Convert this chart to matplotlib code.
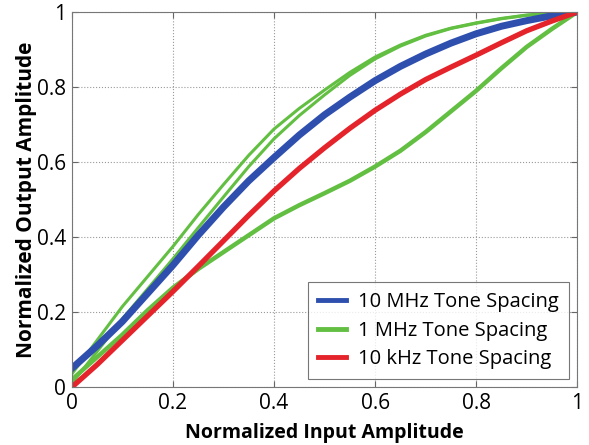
import matplotlib
matplotlib.use('Agg')
import matplotlib.pyplot as plt

plt.rcParams['font.family'] = ['Open Sans', 'DejaVu Sans']

# input amplitude, sampled every 0.05
x = [0.00, 0.05, 0.10, 0.15, 0.20, 0.25, 0.30, 0.35, 0.40, 0.45, 0.50,
     0.55, 0.60, 0.65, 0.70, 0.75, 0.80, 0.85, 0.90, 0.95, 1.00]

mhz10 = [0.05, 0.11, 0.175, 0.25, 0.325, 0.405, 0.48, 0.55, 0.612, 0.672, 0.726,
         0.773, 0.817, 0.855, 0.888, 0.917, 0.942, 0.962, 0.977, 0.99, 1.0]

khz10 = [0.0, 0.06, 0.125, 0.19, 0.255, 0.322, 0.39, 0.458, 0.523, 0.583, 0.638,
         0.69, 0.738, 0.781, 0.82, 0.853, 0.885, 0.918, 0.95, 0.976, 1.0]

# 1 MHz traces a loop: two strands going up, one coming back down
mhz1_up_outer = [0.035, 0.125, 0.215, 0.295, 0.375, 0.46, 0.54, 0.618, 0.688, 0.743, 0.792,
                 0.839, 0.88, 0.912, 0.938, 0.957, 0.971, 0.983, 0.992, 0.997, 1.0]
mhz1_up_inner = [0.01, 0.095, 0.182, 0.262, 0.342, 0.425, 0.507, 0.588, 0.662, 0.724, 0.779,
                 0.831, 0.875, 0.909, 0.936, 0.956, 0.97, 0.982, 0.991, 0.997, 1.0]
mhz1_down = [0.02, 0.08, 0.14, 0.205, 0.265, 0.315, 0.36, 0.405, 0.45, 0.485, 0.517,
             0.55, 0.588, 0.63, 0.68, 0.735, 0.79, 0.85, 0.907, 0.955, 1.0]

labels = ['10 MHz Tone Spacing', '1 MHz Tone Spacing', '10 kHz Tone Spacing']
BLUE = '#2e4fae'
GREEN = '#62bf42'
RED = '#e4232a'

fig = plt.figure(figsize=(5.89, 4.45), dpi=100)
ax = fig.add_axes([0.122, 0.130, 0.858, 0.843])

ax.plot(x, mhz1_up_outer, color=GREEN, lw=2.2)
ax.plot(x, mhz1_up_inner, color=GREEN, lw=2.2)
ax.plot(x, mhz1_down, color=GREEN, lw=3.2)
ax.plot(x, mhz10, color=BLUE, lw=5.0)
ax.plot(x, khz10, color=RED, lw=3.8)

# legend handles in the original order
h_blue, = ax.plot([], [], color=BLUE, lw=3.5)
h_green, = ax.plot([], [], color=GREEN, lw=3.5)
h_red, = ax.plot([], [], color=RED, lw=3.5)
leg = ax.legend([h_blue, h_green, h_red], labels, loc='lower right',
                fontsize=14.5, handlelength=1.4, handletextpad=0.6, frameon=True,
                fancybox=False, borderaxespad=0.4, labelspacing=0.42, borderpad=0.5)
leg.get_frame().set_edgecolor('#555555')
leg.get_frame().set_linewidth(0.8)

ax.set_xlim(0, 1)
ax.set_ylim(0, 1)
ax.set_xticks([0, 0.2, 0.4, 0.6, 0.8, 1])
ax.set_xticklabels(['0', '0.2', '0.4', '0.6', '0.8', '1'])
ax.set_yticks([0, 0.2, 0.4, 0.6, 0.8, 1])
ax.set_yticklabels(['0', '0.2', '0.4', '0.6', '0.8', '1'])
ax.tick_params(direction='in', length=4, labelsize=15, top=True, right=True,
               color='#666666', pad=4)
ax.grid(True, linestyle=':', color='#999999', linewidth=0.8)
for sp in ax.spines.values():
    sp.set_color('#777777')
    sp.set_linewidth(0.8)

ax.set_xlabel('Normalized Input Amplitude', fontsize=14, fontweight='bold', labelpad=7)
ax.set_ylabel('Normalized Output Amplitude', fontsize=15, fontweight='bold', labelpad=0)

fig.savefig('out.png', dpi=100)
